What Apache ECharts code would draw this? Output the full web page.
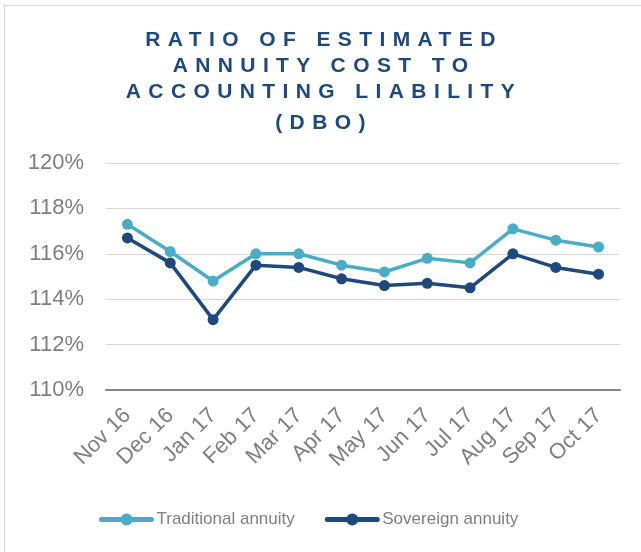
<!DOCTYPE html>
<html>
<head>
<meta charset="utf-8">
<script src="https://cdn.jsdelivr.net/npm/echarts@6/dist/echarts.min.js"></script>
<style>
  html,body{margin:0;padding:0;background:#fff;}
  #wrap{position:relative;width:641px;height:552px;}
  #main{position:absolute;left:0;top:0;width:641px;height:552px;}
  #frame{position:absolute;left:4px;top:5px;width:650px;height:560px;border-left:1px solid #d9d9d9;border-top:1px solid #d9d9d9;pointer-events:none;}
  #title{position:absolute;left:0;top:26px;width:641px;text-align:center;
    font-family:"Liberation Sans",Arial,sans-serif;font-weight:bold;font-size:21px;
    letter-spacing:7.4px;line-height:26px;color:#1f497d;padding-left:7px;box-sizing:border-box;}
</style>
</head>
<body>
<div id="wrap">
  <div id="main"></div>
  <div id="frame"></div>
  <div id="title">RATIO OF ESTIMATED<br>ANNUITY COST TO<br>ACCOUNTING LIABILITY<br><span style="display:inline-block;margin-top:5px">(DBO)</span></div>
</div>
<script>
var months = ['Nov 16','Dec 16','Jan 17','Feb 17','Mar 17','Apr 17','May 17','Jun 17','Jul 17','Aug 17','Sep 17','Oct 17'];
var traditional = [117.3,116.1,114.8,116.0,116.0,115.5,115.2,115.8,115.6,117.1,116.6,116.3];
var sovereign = [116.7,115.6,113.1,115.5,115.4,114.9,114.6,114.7,114.5,116.0,115.4,115.1];

var myChart = echarts.init(document.getElementById('main'));
var gray = '#7f7f7f';
var option = {
    textStyle:{fontFamily:'"Liberation Sans", Arial, sans-serif'},
    color:['#4bacc6','#1f497d'],
    grid:{left:106,right:21,top:163,bottom:162},
    legend:{
        bottom:19,
        left:94,
        itemWidth:50,
        itemHeight:15,
        itemGap:30,
        lineStyle:{width:5,cap:'round'},
        textStyle:{color:gray,fontSize:17},
        data:['Traditional annuity','Sovereign annuity']
    },
    xAxis:{
        type:'category',
        data:months,
        boundaryGap:true,
        axisLine:{lineStyle:{color:'#868686',width:2}},
        axisTick:{show:false},
        axisLabel:{rotate:45,color:gray,fontSize:22,margin:22,interval:0}
    },
    yAxis:{
        type:'value',
        min:110,
        max:120,
        interval:2,
        axisLine:{show:false},
        axisTick:{show:false},
        splitLine:{lineStyle:{color:'#d9d9d9',width:1}},
        axisLabel:{color:gray,fontSize:22,margin:22,formatter:function(v){return v+'%';}}
    },
    series:[
        {
            name:'Traditional annuity',
            type:'line',
            data:traditional,
            symbol:'circle',
            symbolSize:11,
            lineStyle:{width:3.5},
            z:2
        },
        {
            name:'Sovereign annuity',
            type:'line',
            data:sovereign,
            symbol:'circle',
            symbolSize:11,
            lineStyle:{width:3.5},
            z:3
        }
    ]
};
myChart.setOption(option);
</script>
</body>
</html>
